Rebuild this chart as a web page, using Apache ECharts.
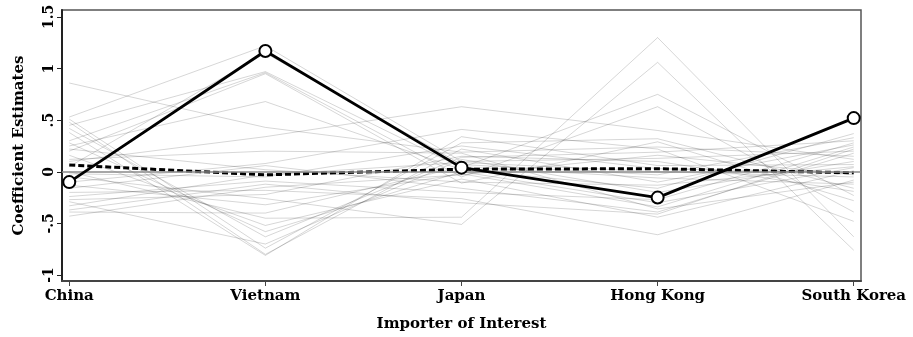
<!DOCTYPE html>
<html>
<head>
<meta charset="utf-8">
<script src="https://cdn.jsdelivr.net/npm/echarts@6/dist/echarts.min.js"></script>
<style>html,body{margin:0;padding:0;background:#fff}#c{width:913px;height:337px}</style>
</head>
<body>
<div id="c"></div>
<script>
const categories = ['China', 'Vietnam', 'Japan', 'Hong Kong', 'South Korea'];
const yTicks = [-1, -0.5, 0, 0.5, 1, 1.5];
const yTickLabels = ['-1', '-.5', '0', '.5', '1', '1.5'];
const mainSeries = [-0.10, 1.17, 0.04, -0.25, 0.52];
const meanSeries = [0.065, -0.03, 0.025, 0.03, -0.01];
const placeboLines = [
  [0.86, 0.43, 0.19, 0.24, 0.15],
  [0.53, 1.22, 0.10, 0.13, 0.20],
  [0.51, -0.74, 0.28, 0.32, -0.16],
  [0.48, -0.80, 0.22, -0.10, 0.26],
  [0.45, 0.97, 0.04, 0.75, -0.23],
  [0.42, -0.63, 0.14, 0.19, 0.30],
  [0.38, -0.81, 0.34, 0.06, 0.07],
  [0.30, 0.96, -0.05, 0.63, -0.39],
  [0.28, -0.58, 0.00, -0.30, 0.04],
  [0.25, 0.68, 0.02, -0.16, 0.37],
  [0.20, 0.95, -0.11, 0.29, -0.28],
  [0.16, -0.52, -0.07, -0.44, 0.01],
  [0.10, 0.34, 0.63, 0.40, 0.12],
  [0.05, 1.15, 0.07, -0.03, 0.33],
  [0.00, -0.45, -0.44, 1.30, -0.63],
  [-0.05, -0.26, -0.51, 1.06, -0.76],
  [-0.10, 0.08, 0.41, 0.22, -0.48],
  [-0.13, -0.32, -0.02, -0.34, 0.24],
  [-0.16, 0.06, -0.16, -0.39, 0.18],
  [-0.20, -0.18, -0.26, -0.61, -0.08],
  [-0.24, -0.09, -0.20, -0.27, 0.28],
  [-0.27, -0.22, 0.15, 0.10, -0.19],
  [-0.29, -0.70, 0.12, -0.20, 0.10],
  [-0.33, -0.03, 0.09, 0.00, -0.05],
  [-0.37, -0.12, -0.30, -0.41, 0.22],
  [-0.39, -0.40, 0.05, -0.06, -0.12],
  [-0.43, -0.15, -0.03, 0.16, -0.03],
  [0.22, 0.02, -0.10, -0.13, 0.05],
  [-0.02, -0.05, 0.25, 0.03, -0.01],
  [0.12, 0.20, 0.18, -0.36, -0.10]
];

const FONT = '"DejaVu Serif", "Liberation Serif", serif';
const toPairs = arr => arr.map((v, i) => [i, v]);
const xIdx = categories.map((c, i) => i);

const series = placeboLines.map(line => ({
  type: 'line', data: toPairs(line), symbol: 'none', silent: true,
  lineStyle: { color: 'rgba(0,0,0,0.16)', width: 1 }, z: 2
}));
series.push({
  type: 'line', data: [], symbol: 'none', silent: true, z: 1,
  markLine: { silent: true, symbol: 'none', label: { show: false },
    lineStyle: { color: '#8a8a8a', width: 1.5, type: 'solid' },
    data: [{ yAxis: 0 }] }
});
series.push({
  type: 'line', data: toPairs(meanSeries), symbol: 'none', z: 4,
  lineStyle: { color: '#000', width: 3, type: [6, 3] }
});
series.push({
  type: 'line', data: toPairs(mainSeries), symbol: 'circle', symbolSize: 12, z: 5,
  lineStyle: { color: '#000', width: 2.8 },
  itemStyle: { color: '#fff', borderColor: '#000', borderWidth: 2 }
});

const chart = echarts.init(document.getElementById('c'), null, { renderer: 'canvas' });
chart.setOption({
  animation: false,
  backgroundColor: '#fff',
  grid: { left: 62, right: 52, top: 10, bottom: 54, show: true, borderColor: '#555', borderWidth: 1.5, backgroundColor: 'transparent' },
  xAxis: {
    type: 'value', min: -0.037, max: 4.037,
    name: 'Importer of Interest', nameLocation: 'middle', nameGap: 36,
    nameTextStyle: { fontFamily: FONT, fontWeight: 'bold', fontSize: 15, color: '#000' },
    axisLine: { show: true, onZero: false, lineStyle: { color: '#444', width: 2 } },
    axisTick: { show: true, length: 5, customValues: xIdx, lineStyle: { color: '#444', width: 1 } },
    axisLabel: { customValues: xIdx, margin: 8, fontFamily: FONT, fontWeight: 'bold', fontSize: 15, color: '#000',
      formatter: v => categories[Math.round(v)] },
    splitLine: { show: false }
  },
  yAxis: {
    type: 'value', min: -1.058, max: 1.567,
    name: 'Coefficient Estimates', nameLocation: 'middle', nameGap: 35, nameRotate: 90,
    nameTextStyle: { fontFamily: FONT, fontWeight: 'bold', fontSize: 15, color: '#000' },
    axisLine: { show: true, onZero: false, lineStyle: { color: '#222', width: 2 } },
    axisTick: { show: true, length: 5, customValues: yTicks, lineStyle: { color: '#222', width: 1 } },
    axisLabel: { customValues: yTicks, rotate: 90, margin: 6, fontFamily: FONT, fontWeight: 'bold', fontSize: 14, color: '#000',
      formatter: v => { const i = yTicks.findIndex(t => Math.abs(t - v) < 1e-6); return i >= 0 ? yTickLabels[i] : ''; } },
    splitLine: { show: false }
  },
  series: series
});
</script>
</body>
</html>
